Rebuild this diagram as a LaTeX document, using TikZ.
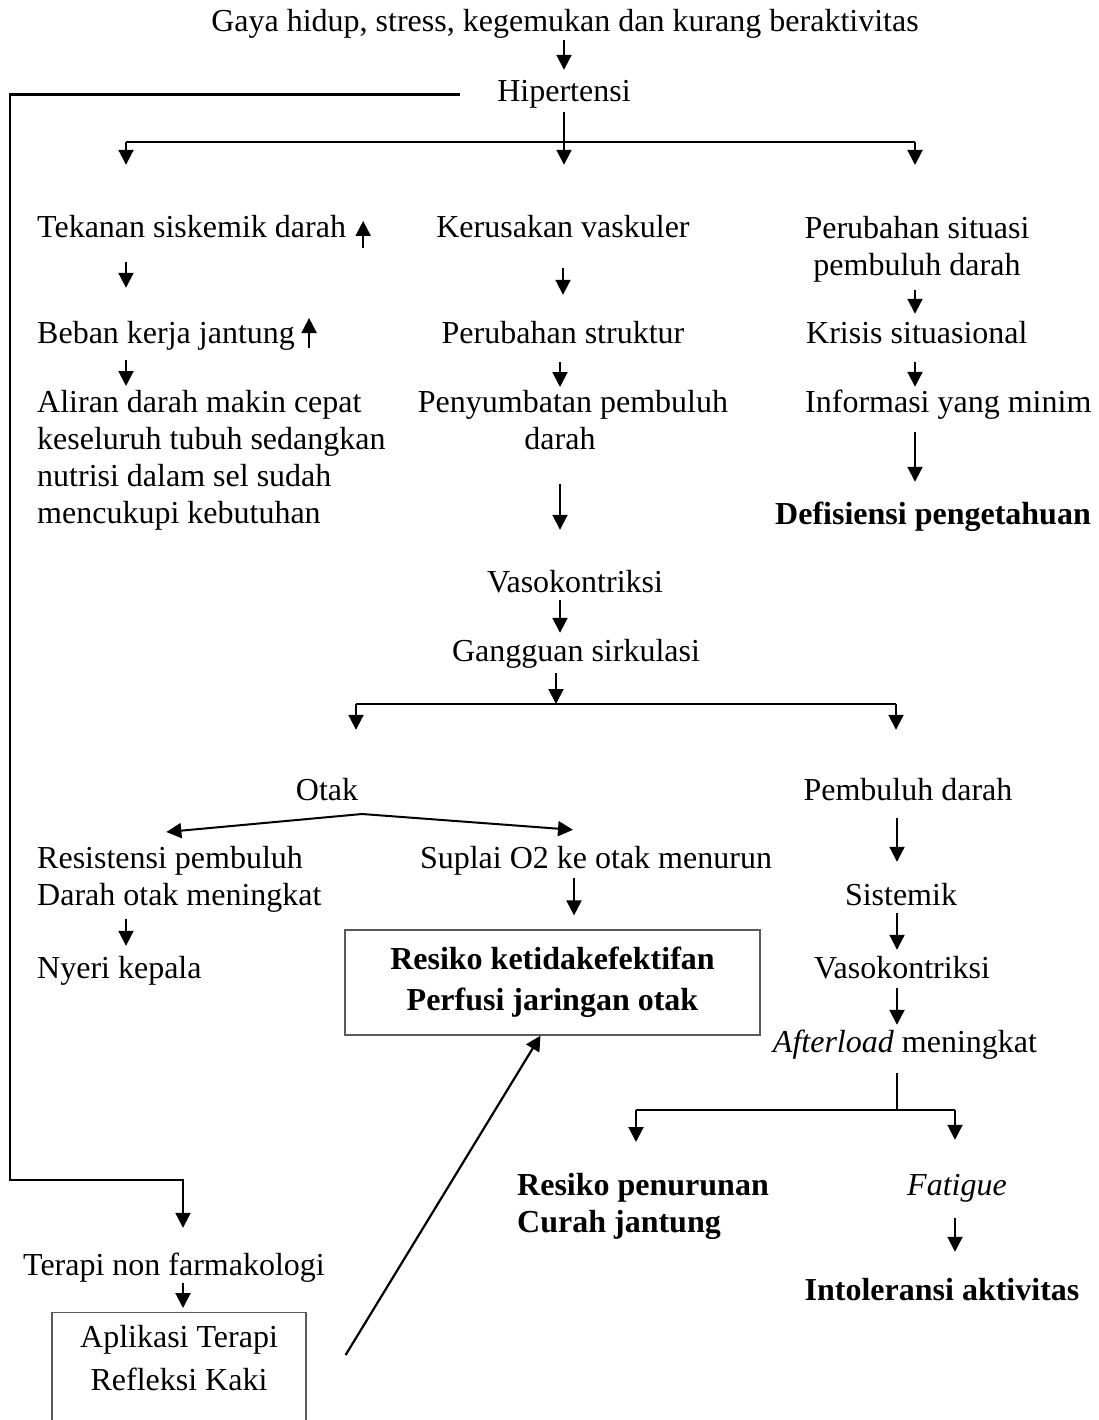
\documentclass[tikz,border=0pt]{standalone}
\usepackage{fontspec}
\setmainfont{Liberation Serif}
\usetikzlibrary{positioning,arrows.meta,calc}
\newcommand{\diagfont}{\fontsize{32pt}{37pt}\selectfont}
\tikzset{
  lbl/.style={inner sep=0pt, text height=23pt, text depth=8pt, anchor=base},
  lblW/.style={lbl, anchor=base west},
  multi/.style={inner sep=0pt, align=left, anchor=north west},
  multiC/.style={inner sep=0pt, align=center, anchor=north},
  strong/.style={font=\diagfont\bfseries},
  frameBox/.style={draw=black!65, line width=1.2pt, align=center, inner sep=0pt},
  arrow/.style={-{Triangle[length=15pt,width=15pt]}, line width=2pt},
  bar/.style={line width=2.2pt}
}

\begin{document}
\begin{tikzpicture}[x=1pt, y=-1pt, every node/.style={font=\diagfont}]
  \useasboundingbox (0,0) rectangle (1098,1420);
  % top part
  \node[lbl] (top) at (565,32) {Gaya hidup, stress, kegemukan dan kurang beraktivitas};
  \node[lbl] (hip) at (564,102) {Hipertensi};
  \node[lblW] (tek) at (37,238) {Tekanan siskemik darah};
  \node[lbl] (kerus) at (563,238) {Kerusakan vaskuler};
  \node[multiC] (perSit) at (917,216) {Perubahan situasi\\pembuluh darah};
  \node[lblW] (beban) at (37,343) {Beban kerja jantung};
  \node[lbl] (perStr) at (563,343) {Perubahan struktur};
  \node[lblW] (krisis) at (806,343) {Krisis situasional};
  \node[multi] (aliran) at (37,390) {Aliran darah makin cepat\\keseluruh tubuh sedangkan\\nutrisi dalam sel sudah\\mencukupi kebutuhan};
  \node[multiC] (penyum) at (573,390) {Penyumbatan pembuluh\\darah\hspace*{26pt}};
  \node[lblW] (info) at (805,412) {Informasi yang minim};
  \node[lblW, strong] (defis) at (775,524) {Defisiensi pengetahuan};
  \node[lbl] (vaso1) at (575,592) {Vasokontriksi};
  \node[lbl] (gang) at (576,661) {Gangguan sirkulasi};
  % lower part
  \node[lbl] (otak) at (327,800) {Otak};
  \node[lbl] (pemb) at (908,800) {Pembuluh darah};
  \node[multi] (resis) at (37,846) {Resistensi pembuluh\\Darah otak meningkat};
  \node[lbl] (suplai) at (596,868) {Suplai O2 ke otak menurun};
  \node[lblW] (nyeri) at (37,978) {Nyeri kepala};
  \node[frameBox, strong, minimum width=415pt, minimum height=105pt] (resiko) at (552.5,982.5) {Resiko ketidakefektifan\\[4pt]Perfusi jaringan otak};
  \node[lbl] (sistemik) at (901,905) {Sistemik};
  \node[lbl] (vaso2) at (902,978) {Vasokontriksi};
  \node[lbl] (after) at (905,1052) {\textit{Afterload} meningkat};
  \node[multi, strong] (resPen) at (517,1173) {Resiko penurunan\\Curah jantung};
  \node[lbl, font=\diagfont\itshape] (fatigue) at (957,1195) {Fatigue};
  \node[lbl, strong] (intol) at (942,1300) {Intoleransi aktivitas};
  \node[lbl] (terapi) at (174,1275) {Terapi non farmakologi};
  \node[frameBox, anchor=north, minimum width=254pt, inner ysep=13pt] (aplikasi) at (179,1312) {Aplikasi Terapi\\[6pt]Refleksi Kaki\\[6pt]\mbox{}};

  \coordinate (barTopL) at (126,142);
  \coordinate (barTopR) at (915,142);
  \coordinate (fbCorner) at (10,1180);
  \coordinate (barMid) at (556,704);
  \coordinate (barLowL) at (356,704);
  \coordinate (barLowR) at (896,704);
  \coordinate (otakFork) at (362,814);
  \coordinate (barAft) at (897,1110);
  \coordinate (barAftL) at (636,1110);
  \coordinate (barAftR) at (955,1110);

  % connectors
  \draw[arrow, shorten >=9pt] (hip.north |- top.south) -- (hip.north);
  \draw[arrow, line width=2.2pt, shorten >=24pt] ([xshift=-37pt]hip.west) -| (fbCorner) -| ([xshift=9pt]terapi.north);
  \draw[arrow, shorten <=2pt, shorten >=50pt] (hip.south) -- (hip.south |- kerus.north);
  \draw[bar] (barTopL) -- (barTopR);
  \draw[arrow, shorten >=50pt] (barTopL) -- (barTopL |- tek.north);
  \draw[arrow, shorten >=51pt] (barTopR) -- (barTopR |- perSit.north);
  \draw[arrow] ([xshift=17pt,yshift=-10pt]tek.base east) -- ++(0,-27);
  \draw[arrow] ([xshift=14pt,yshift=-5pt]beban.base east) -- ++(0,-30);
  \draw[arrow, shorten <=16pt, shorten >=32pt] (tek.south -| barTopL) -- (beban.north -| barTopL);
  \draw[arrow, shorten <=22pt, shorten >=25pt] (kerus.south) -- (perStr.north);
  \draw[arrow, shorten <=8pt, shorten >=6pt] (perSit.south -| barTopR) -- (krisis.north -| barTopR);
  \draw[arrow, shorten <=9pt, shorten >=4pt] (beban.south -| barTopL) -- (aliran.north -| barTopL);
  \draw[arrow, shorten <=11pt, shorten >=3pt] ([xshift=-3pt]perStr.south) -- ([xshift=-3pt]perStr.south |- penyum.north);
  \draw[arrow, shorten <=11pt, shorten >=2pt] (krisis.south -| barTopR) -- (info.north -| barTopR);
  \draw[arrow, shorten <=34pt, shorten >=39pt] ([xshift=-13pt]penyum.south) -- ([xshift=-13pt]penyum.south |- vaso1.north);
  \draw[arrow, shorten <=12pt, shorten >=19pt] (info.south -| barTopR) -- (defis.north -| barTopR);
  \draw[arrow, shorten >=5pt] ([xshift=-15pt]vaso1.south) -- ([xshift=-15pt]vaso1.south |- gang.north);
  \draw[arrow, shorten <=4pt] (gang.south -| barMid) -- (barMid);
  \draw[bar] (barLowL) -- (barLowR);
  \draw[arrow, shorten >=47pt] (barLowL) -- (barLowL |- otak.north);
  \draw[arrow, shorten >=47pt] (barLowR) -- (barLowR |- pemb.north);
  \draw[arrow] (otakFork) -- ([xshift=-13pt,yshift=14pt]resis.north);
  \draw[arrow] (otakFork) -- ([xshift=-23pt,yshift=15pt]suplai.north);
  \draw[arrow, shorten <=6pt, shorten >=9pt] (resis.south -| barTopL) -- (nyeri.north -| barTopL);
  \draw[arrow, shorten <=2pt, shorten >=14pt] ([xshift=-22pt]suplai.south) -- ([xshift=-22pt]suplai.south |- resiko.north);
  \draw[arrow, shorten <=10pt, shorten >=20pt] (pemb.south -| barAft) -- (sistemik.north -| barAft);
  \draw[arrow, shorten >=5pt] (sistemik.south -| barAft) -- (vaso2.north -| barAft);
  \draw[arrow, shorten <=2pt, shorten >=4pt] (vaso2.south -| barAft) -- (after.north -| barAft);
  \draw[line width=1.4pt, shorten <=13pt] (after.south -| barAft) -- (barAft);
  \draw[line width=1.8pt] (barAftL) -- (barAftR);
  \draw[arrow, shorten >=31pt] (barAftL) -- (barAftL |- resPen.north);
  \draw[arrow, shorten >=32pt] (barAftR) -- (barAftR |- fatigue.north);
  \draw[arrow, shorten <=15pt, shorten >=25pt] (fatigue.south -| barAftR) -- (intol.north -| barAftR);
  \draw[arrow, shorten >=4pt] ([xshift=9pt]terapi.south) -- ([xshift=9pt]terapi.south |- aplikasi.north);
  \draw[arrow, line width=2.2pt] ([xshift=39pt,yshift=-43pt]aplikasi.north east) -- ([xshift=-12pt]resiko.south);
\end{tikzpicture}
\end{document}
